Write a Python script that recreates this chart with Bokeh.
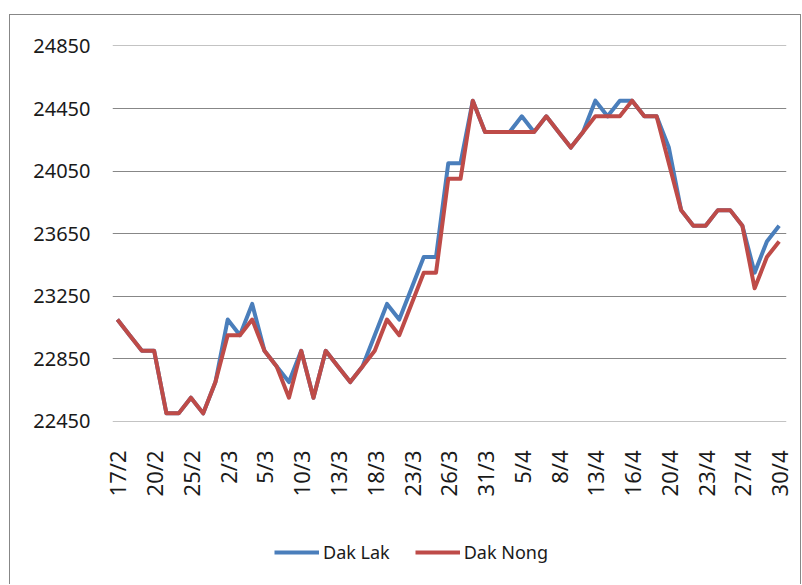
from math import pi
from bokeh.plotting import figure
from bokeh.layouts import column
from bokeh.models import FixedTicker, Legend, LegendItem, Range1d
from bokeh.embed import file_html
from bokeh.resources import INLINE

# tick labels shown every third trading day
tick_labels = ["17/2", "20/2", "25/2", "2/3", "5/3", "10/3", "13/3", "18/3", "23/3",
               "26/3", "31/3", "5/4", "8/4", "13/4", "16/4", "20/4", "23/4", "27/4", "30/4"]

dak_lak = [23100, 23000, 22900, 22900, 22500, 22500, 22600, 22500, 22700, 23100,
           23000, 23200, 22900, 22800, 22700, 22900, 22600, 22900, 22800, 22700,
           22800, 23000, 23200, 23100, 23300, 23500, 23500, 24100, 24100, 24500,
           24300, 24300, 24300, 24400, 24300, 24400, 24300, 24200, 24300, 24500,
           24400, 24500, 24500, 24400, 24400, 24200, 23800, 23700, 23700, 23800,
           23800, 23700, 23400, 23600, 23700]

dak_nong = [23100, 23000, 22900, 22900, 22500, 22500, 22600, 22500, 22700, 23000,
            23000, 23100, 22900, 22800, 22600, 22900, 22600, 22900, 22800, 22700,
            22800, 22900, 23100, 23000, 23200, 23400, 23400, 24000, 24000, 24500,
            24300, 24300, 24300, 24300, 24300, 24400, 24300, 24200, 24300, 24400,
            24400, 24400, 24500, 24400, 24400, 24100, 23800, 23700, 23700, 23800,
            23800, 23700, 23300, 23500, 23600]

series_names = ["Dak Lak", "Dak Nong"]
series_colors = ["#4A7EBB", "#BE4B48"]

y_ticks = [22450, 22850, 23250, 23650, 24050, 24450, 24850]

idx = list(range(len(dak_lak)))
tick_pos = list(range(0, len(dak_lak), 3))

FONT = "Noto Sans"
TXT = "#1a1a1a"

# ---------------- main chart ----------------
p1 = figure(width=790, height=515, output_backend="svg", toolbar_location=None,
            x_range=(-0.4, 54.6), y_range=(y_ticks[0] - 2, y_ticks[-1] + 3),
            min_border_left=102, min_border_right=14, min_border_top=30,
            min_border_bottom=109)
p1.outline_line_color = None
p1.background_fill_color = "white"
p1.border_fill_color = "white"

for data, col in zip([dak_lak, dak_nong], series_colors):
    p1.line(idx, data, line_color=col, line_width=4, line_join="round")

p1.xaxis.ticker = FixedTicker(ticks=tick_pos)
p1.xaxis.major_label_overrides = {pos: lab for pos, lab in zip(tick_pos, tick_labels)}
p1.xaxis.major_label_orientation = pi / 2
p1.yaxis.ticker = FixedTicker(ticks=y_ticks)

for ax in (p1.xaxis[0], p1.yaxis[0]):
    ax.axis_line_color = None
    ax.major_tick_line_color = None
    ax.minor_tick_line_color = None
    ax.major_tick_in = 0
    ax.major_tick_out = 0
    ax.major_label_text_font = FONT
    ax.major_label_text_color = TXT
p1.yaxis.major_label_text_font_size = "20px"
p1.xaxis.major_label_text_font_size = "22px"
p1.yaxis.major_label_standoff = 22
p1.xaxis.major_label_standoff = 29

p1.xgrid.grid_line_color = None
p1.ygrid.ticker = FixedTicker(ticks=y_ticks)
p1.ygrid.grid_line_color = "#878787"
p1.ygrid.grid_line_width = 1

# ---------------- legend strip ----------------
p2 = figure(width=790, height=54, output_backend="svg", toolbar_location=None,
            x_range=Range1d(1000, 1001), y_range=Range1d(1000, 1001),
            min_border=0)
p2.outline_line_color = None
p2.axis.visible = False
p2.grid.visible = False
p2.border_fill_color = "white"
p2.background_fill_color = "white"

items = []
for name, data, col in zip(series_names, [dak_lak, dak_nong], series_colors):
    r = p2.line(idx, data, line_color=col, line_width=4)
    items.append(LegendItem(label=name, renderers=[r]))

legend = Legend(items=items, orientation="horizontal", location=(162, 20))
legend.label_text_font = FONT
legend.label_text_font_size = "18px"
legend.label_text_color = TXT
legend.glyph_width = 45
legend.glyph_height = 20
legend.label_standoff = 4
legend.spacing = 25
legend.padding = 0
legend.margin = 0
legend.border_line_color = None
legend.background_fill_alpha = 0
p2.add_layout(legend)

layout = column(p1, p2, spacing=0)
layout.margin = (14, 0, 0, 9)
layout.styles = {"border-top": "1px solid #878787", "border-left": "1px solid #878787",
                 "border-right": "1px solid #878787"}

open("out.html", "w").write(file_html(layout, INLINE))
